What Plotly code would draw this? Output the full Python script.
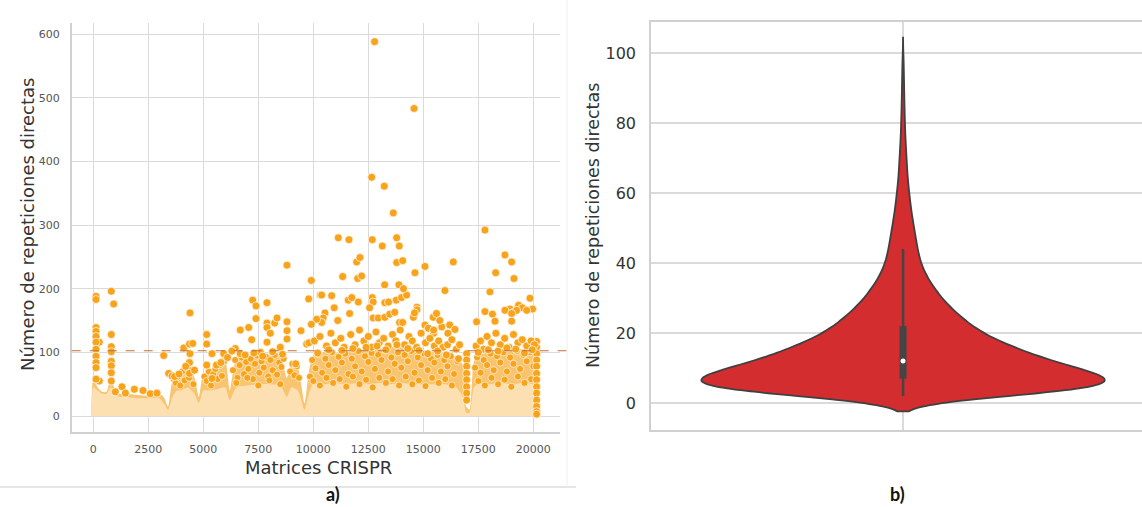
import numpy as np
import plotly.graph_objects as go

# ---------------- Panel a) data (read from picture) ----------------
x_tickvals = [0, 2500, 5000, 7500, 10000, 12500, 15000, 17500, 20000]
x_ticktext = ["0", "2500", "5000", "7500", "10000", "12500", "15000", "17500", "20000"]
y_tickvals = [0, 100, 200, 300, 400, 500, 600]

# envelope of the dense base of the scatter (x position, top of pale band, top of dense dot band)
env_x = [-100, 0, 200, 400, 600, 800, 1000, 1200, 1500, 2000, 2500, 3000, 3200, 3400, 3600, 3800,
         4000, 4300, 4600, 4800, 5000, 5300, 5600, 6000, 6200, 6500, 7000, 7500, 8000, 8500, 8800,
         9000, 9300, 9600, 9800, 10000, 10500, 11000, 11500, 12000, 12500, 13000, 13500, 14000,
         14500, 15000, 15500, 16000, 16500, 16800, 16950, 17100, 17300, 17500, 18000, 18500, 19000,
         19500, 20000, 20150, 20250]
pale_top = [0, 45, 40, 35, 35, 45, 35, 30, 30, 28, 28, 28, 20, 10, 30, 40,
            40, 45, 35, 20, 40, 40, 42, 45, 25, 45, 48, 50, 50, 48, 30,
            45, 40, 10, 35, 50, 50, 52, 50, 52, 50, 52, 50, 52,
            50, 50, 50, 50, 45, 30, 5, 5, 45, 50, 50, 52, 50,
            52, 50, 40, 0]
dense_top = [0, 60, 45, 38, 38, 60, 40, 35, 35, 33, 32, 35, 30, 15, 55, 60,
             70, 80, 60, 30, 65, 65, 75, 85, 40, 88, 90, 92, 95, 92, 60,
             80, 75, 20, 70, 95, 100, 98, 100, 102, 105, 105, 108, 108,
             105, 100, 100, 98, 92, 80, 15, 10, 85, 95, 100, 100, 105,
             105, 100, 60, 0]

# individual visible points (CRISPR array index, number of direct repeats)
pts_x = [12785, 14580, 12653, 13226, 13635,
         11135, 11622, 12680, 13135, 13790, 13908, 17803,
         11972, 12122, 11335, 12017, 12199, 13790, 14063, 15076, 16362, 18712, 19015, 18290, 19122,
         14622, 13243, 13894, 15985, 18030,
         8804, 9910, 9790, 10318,
         123, 123, 818, 927, 4395, 7245, 7395, 7895,
         10380, 10835, 11590, 11750, 12045, 12680, 12720, 13250, 13420, 13770, 14010, 14240, 14100,
         14712, 14712, 19850, 19970, 19330, 19500, 19700, 18940, 19100, 19240, 18712, 17803, 18144,
         18260, 19015, 19015, 17424, 10530, 10450, 10380, 10150, 11112, 10950, 11650, 12560, 12720,
         12950, 13250, 13470, 13700, 13920, 14060, 14550, 14600, 15076, 15230, 15450, 15600, 15840,
         15750, 16200, 16440, 15470, 15470, 16120,
         273, 123, 123, 123, 123, 123, 818, 818, 818,
         3200, 4108, 4370, 4520, 4395, 5153, 5153, 5395, 6455, 6682, 7063, 7200, 7395, 7895, 7895,
         8045, 8245, 8350, 7895, 8804, 8804, 8804, 9440, 9910, 9700, 9800, 5927, 6680, 6300, 7600, 8500,
         1304, 1460, 1864, 2260, 2590, 2895, 3427, 3580, 4370, 4370, 5153, 5395, 273,
         123, 123, 123, 123, 818, 818, 818, 818, 1000,
         20150, 20150, 20150, 20150, 20150, 20150, 20150, 20150, 20150, 20150, 20150, 20150, 20150,
         16970, 16970, 16970, 16970, 16970, 16970, 16970, 16970,
         10050, 10300, 10600, 10800, 11000, 11250, 11400, 11700, 11900, 12100, 12300, 12500, 12650,
         12850, 13000, 13200, 13400, 13600, 13750, 13950, 14150, 14350, 14500, 14700, 14900, 15100,
         15300, 15500, 15700, 15900, 16100, 16300, 16500, 16650, 17400, 17600, 17750, 17900, 18100,
         18300, 18500, 18700, 18900, 19100, 19300, 19500, 19700, 19900, 20050,
         3700, 3900, 4200, 4600, 5600, 5800, 6100, 6900, 7300, 7700, 8150, 8600, 9200, 10200, 10700,
         11300, 11800, 12400, 12900, 13300, 13800, 14300, 14800, 15200, 15650, 16050, 16600, 17500,
         17950, 18400, 18800, 19200, 19600, 19950]
pts_y = [588, 483, 375, 361, 319,
         280, 277, 277, 267, 280, 267, 292,
         242, 249, 219, 216, 220, 241, 244, 235, 242, 253, 242, 225, 216,
         225, 206, 206, 197, 195,
         237, 213, 184, 190,
         188, 183, 196, 176, 162, 182, 173, 178,
         190, 189, 182, 186, 179, 186, 179, 178, 179, 182, 186, 190, 200,
         171, 167, 185, 168, 174, 170, 166, 168, 163, 166, 166, 164, 160,
         149, 161, 149, 148, 162, 154, 147, 152, 150, 170, 161, 170, 154,
         154, 155, 160, 163, 147, 147, 155, 162, 143, 138, 155, 161, 140,
         150, 143, 136, 130, 135, 130,
         116, 139, 133, 125, 116, 105, 128, 109, 101,
         95, 107, 113, 114, 98, 128, 113, 98, 106, 135, 139, 120, 153, 146, 139,
         130, 146, 154, 116, 148, 134, 121, 134, 144, 113, 115, 98, 98, 102, 100, 108,
         46, 36, 42, 40, 35, 36, 67, 63, 84, 67, 80, 59, 55,
         94, 84, 76, 58, 86, 79, 68, 55, 38,
         117, 108, 98, 88, 78, 67, 57, 46, 36, 25, 15, 7, 3,
         98, 88, 78, 67, 57, 46, 36, 25,
         118, 125, 110, 130, 115, 122, 108, 128, 112, 135, 118, 125, 108,
         132, 115, 122, 110, 128, 118, 135, 112, 125, 118, 108, 130, 115,
         122, 110, 118, 108, 112, 120, 105, 112, 110, 118, 105, 125, 115,
         130, 112, 122, 108, 128, 115, 120, 110, 118, 112,
         62, 66, 78, 72, 80, 84, 92, 96, 99, 94, 101, 97, 82, 99, 104,
         103, 106, 108, 110, 104, 112, 106, 103, 98, 102, 96, 90, 100,
         104, 102, 107, 105, 99, 104]

# points inside the dense band (40-105 repeats)
mid_x = [3650, 3750, 3850, 3950, 4050, 4150, 4250, 4350, 4450, 4550,
         5050, 5150, 5250, 5350, 5450, 5550, 5650, 5750, 5850, 5950,
         6350, 6450, 6550, 6650, 6750, 6850, 6950, 7050, 7150, 7250, 7350, 7450, 7550, 7650, 7750,
         7850, 7950, 8050, 8150, 8250, 8350, 8450, 8550, 8650,
         8950, 9050, 9150, 9250, 9350,
         9850, 9950, 10100, 10250, 10400, 10550, 10700, 10850, 11000, 11150, 11300, 11450, 11600,
         11750, 11900, 12050, 12200, 12350, 12500, 12650, 12800, 12950, 13100, 13250, 13400, 13550,
         13700, 13850, 14000, 14150, 14300, 14450, 14600, 14750, 14900, 15050, 15200, 15350, 15500,
         15650, 15800, 15950, 16100, 16250, 16400, 16550,
         17350, 17450, 17600, 17750, 17900, 18050, 18200, 18350, 18500, 18650, 18800, 18950, 19100,
         19250, 19400, 19550, 19700, 19850, 20000,
         10000, 10300, 10600, 10900, 11200, 11500, 11800, 12100, 12400, 12700, 13000, 13300, 13600,
         13900, 14200, 14500, 14800, 15100, 15400, 15700, 16000, 16300, 17500, 17800, 18100, 18400,
         18700, 19000, 19300, 19600, 19900, 6500, 7000, 7500, 8000, 8500]
mid_y = [58, 52, 62, 48, 70, 56, 75, 60, 72, 50,
         62, 55, 70, 48, 66, 74, 58, 80, 63, 86,
         72, 88, 60, 80, 92, 66, 85, 74, 90, 58, 82, 95, 68, 86, 76,
         93, 62, 88, 72, 96, 65, 84, 77, 90,
         70, 82, 64, 78, 60,
         62, 88, 75, 97, 68, 90, 80, 100, 72, 93, 84, 98, 66,
         90, 78, 102, 70, 94, 85, 99, 74, 96, 88, 104, 70, 92,
         82, 100, 76, 96, 86, 102, 68, 92, 80, 98, 72, 90, 84,
         96, 70, 88, 78, 94, 66, 86,
         76, 92, 68, 88, 80, 98, 72, 94, 84, 100, 70, 92, 82,
         102, 74, 96, 86, 100, 78,
         55, 48, 60, 52, 58, 46, 62, 50, 57, 45, 60, 52, 58,
         48, 62, 50, 56, 47, 60, 52, 58, 48, 55, 48, 60, 50,
         57, 46, 62, 52, 58, 52, 60, 48, 56, 50]
threshold = 102.5

# ---------------- Panel b) data (distribution of direct repeats, <= ~100) ----------------
dr_values = list(range(2, 101))
dr_counts = [670, 920, 1080, 1130, 1130, 1100, 1040, 970, 910, 820, 760, 700, 660, 620, 570, 520, 475,
             440, 410, 380, 355, 330, 310, 290, 270, 250, 230, 212, 200, 185, 172, 158, 146, 135, 124,
             114, 105, 98, 92, 87, 82, 78, 75, 72, 69, 66, 63, 60, 57, 54, 51, 48, 45, 42, 40, 38, 36,
             34, 32, 30, 28, 26, 24, 23, 22, 21, 20, 19, 18, 17, 16, 15, 14, 13, 12, 11, 11, 10, 10, 9,
             9, 8, 8, 7, 7, 7, 6, 6, 6, 5, 5, 5, 4, 4, 4, 3, 3, 3, 2]
violin_pos = 0

dr_data = np.repeat(np.array(dr_values, dtype=float), dr_counts)

W, H = 1142, 507
def px_x(p):
    return p / W
def px_y(p):
    return 1 - p / H

ORANGE = "rgb(247,163,28)"
fig = go.Figure()

# dense band (behind), pale band on top
fig.add_trace(go.Scatter(x=env_x, y=dense_top, mode="lines", line=dict(width=0, shape="spline", smoothing=0.6),
                         fill="tozeroy", fillcolor="rgb(249,196,112)", hoverinfo="skip",
                         xaxis="x", yaxis="y", showlegend=False))
fig.add_trace(go.Scatter(x=env_x, y=pale_top, mode="lines", line=dict(width=0, shape="spline", smoothing=0.6),
                         fill="tozeroy", fillcolor="rgb(253,224,178)", hoverinfo="skip",
                         xaxis="x", yaxis="y", showlegend=False))
fig.add_trace(go.Scatter(x=mid_x, y=mid_y, mode="markers",
                         marker=dict(size=7, color=ORANGE, line=dict(color="white", width=0.6)),
                         xaxis="x", yaxis="y", showlegend=False, hoverinfo="skip"))
fig.add_trace(go.Scatter(x=pts_x, y=pts_y, mode="markers",
                         marker=dict(size=8, color=ORANGE, line=dict(color="white", width=0.7)),
                         xaxis="x", yaxis="y", showlegend=False))

# violin
fig.add_trace(go.Violin(y=dr_data, x0=violin_pos, width=0.8, bandwidth=2.2, spanmode="soft",
                        fillcolor="rgb(211,45,47)", line=dict(color="#404040", width=1.8),
                        points=False, box_visible=False, meanline_visible=False,
                        xaxis="x2", yaxis="y2", showlegend=False, hoverinfo="skip", opacity=1))
q1, med, q3 = np.percentile(dr_data, [25, 50, 75])
iqr = q3 - q1
w_lo = dr_data[dr_data >= q1 - 1.5 * iqr].min()
w_hi = dr_data[dr_data <= q3 + 1.5 * iqr].max()
fig.add_trace(go.Scatter(x=[violin_pos, violin_pos], y=[w_lo, w_hi], mode="lines",
                         line=dict(color="#454545", width=2.5), xaxis="x2", yaxis="y2", showlegend=False))
fig.add_trace(go.Scatter(x=[violin_pos, violin_pos], y=[q1, q3], mode="lines",
                         line=dict(color="#454545", width=7), xaxis="x2", yaxis="y2", showlegend=False))
fig.add_trace(go.Scatter(x=[violin_pos], y=[med], mode="markers",
                         marker=dict(color="white", size=5), xaxis="x2", yaxis="y2", showlegend=False))

GRID = "#dadada"
fig.update_layout(
    width=W, height=H, margin=dict(l=0, r=0, t=0, b=0),
    paper_bgcolor="white", plot_bgcolor="white",
    font=dict(family="DejaVu Sans", color="#444"),
    xaxis=dict(domain=[px_x(71.7), px_x(560)], range=[-982, 21214],
               tickvals=x_tickvals, ticktext=x_ticktext,
               showgrid=True, gridcolor=GRID, gridwidth=1.3, zeroline=False,
               showline=True, linecolor="#d0d0d0", linewidth=1.5, ticks="",
               tickfont=dict(size=11, color="#555"), ticklabelstandoff=6),
    yaxis=dict(domain=[px_y(431.7), px_y(23.3)], range=[-24.6, 616.8], tickvals=y_tickvals,
               showgrid=True, gridcolor=GRID, gridwidth=1.3, zeroline=False,
               showline=True, linecolor="#d0d0d0", linewidth=1.5, ticks="",
               tickfont=dict(size=11, color="#555"), ticklabelstandoff=8),
    xaxis2=dict(domain=[px_x(651), 1], range=[-0.5, 0.474], tickvals=[violin_pos], showticklabels=False,
                showgrid=True, gridcolor=GRID, gridwidth=1.5, zeroline=False,
                showline=True, mirror=True, linecolor="#d0d0d0", linewidth=1.5, ticks="", anchor="y2"),
    yaxis2=dict(domain=[px_y(430), px_y(22)], range=[-7.7, 108.9], tickvals=list(range(0, 101, 20)),
                showgrid=True, gridcolor=GRID, gridwidth=1.5, zeroline=False,
                showline=True, linecolor="#d0d0d0", linewidth=1.5, ticks="", anchor="x2",
                tickfont=dict(size=16, color="#333"), ticklabelstandoff=10),
)

# threshold dashed line
fig.add_shape(type="line", xref="paper", yref="y", x0=px_x(71.7), x1=px_x(575), y0=threshold, y1=threshold,
              line=dict(color="rgb(196,112,58)", width=1.2, dash="dash"))
# faint framing lines
fig.add_shape(type="line", xref="paper", yref="paper", x0=0, x1=px_x(576), y0=px_y(487), y1=px_y(487),
              line=dict(color="#dcdcdc", width=1.5))
fig.add_shape(type="line", xref="paper", yref="paper", x0=px_x(567), x1=px_x(567), y0=px_y(487), y1=1,
              line=dict(color="#efefef", width=1))

ann = [
    dict(text="Número de repeticiones directas", x=px_x(27), y=px_y(225), textangle=-90,
         font=dict(size=18, color="#333", family="DejaVu Sans")),
    dict(text="Matrices CRISPR", x=px_x(318), y=px_y(467),
         font=dict(size=18, color="#333", family="DejaVu Sans")),
    dict(text="Número de repeticiones directas", x=px_x(593), y=px_y(226), textangle=-90,
         font=dict(size=17.5, color="#333", family="DejaVu Sans")),
    dict(text="<b>a)</b>", x=px_x(333), y=px_y(494), font=dict(size=18, color="#111", family="Lato")),
    dict(text="<b>b)</b>", x=px_x(897), y=px_y(494), font=dict(size=18, color="#111", family="Lato")),
]
for a in ann:
    fig.add_annotation(xref="paper", yref="paper", showarrow=False, xanchor="center", yanchor="middle", **a)

fig.write_html("out.html")
